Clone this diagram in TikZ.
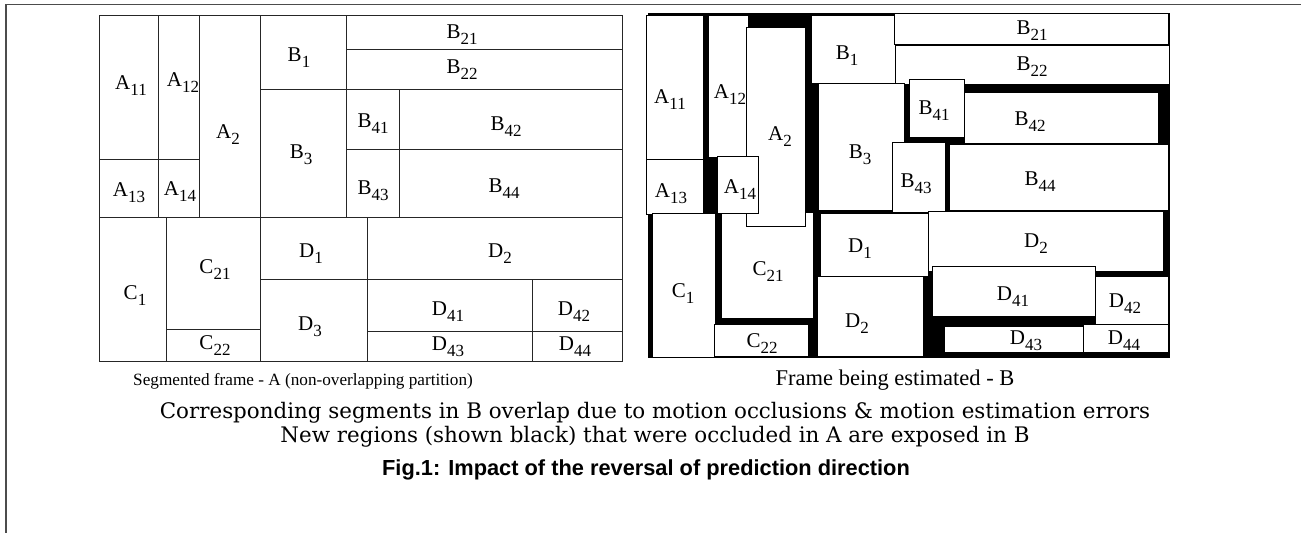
\documentclass[tikz,border=0pt]{standalone}
\usepackage{fontspec}
\setmainfont{Liberation Serif}
\newfontfamily\notefont{DejaVu Serif}
\newfontfamily\figfont{Liberation Sans}
\newcommand{\seg}[2]{#1\raisebox{-6pt}{\fontsize{17}{17}\selectfont #2}}

\begin{document}
\begin{tikzpicture}[x=1pt,y=1pt,
	lbl/.style={font=\fontsize{21}{25}\selectfont},
	segbox/.style={draw=black,fill=white,line width=0.8pt},
	part/.style={draw=black!85,line width=0.9pt}]
	\tikzstyle{every node}+=[inner sep=0pt]
	\useasboundingbox (0,0) rectangle (1301,-533);
	% page rules
	\draw [gray!60!black, line width=1.5pt] (5,-4.5) -- (1301,-4.5);
	\draw [gray!60!black, line width=2pt] (5.5,-4.5) -- (5.5,-533);

	% segmented frame A
	\draw [part] (99,-15) rectangle (622,-361);
	\draw [part] (99,-217) -- (622,-217);
	\draw [part] (158,-15) -- (158,-217);
	\draw [part] (199,-15) -- (199,-217);
	\draw [part] (260,-15) -- (260,-361);
	\draw [part] (346,-15) -- (346,-217);
	\draw [part] (99,-159) -- (199,-159);
	\draw [part] (260,-89) -- (622,-89);
	\draw [part] (346,-49) -- (622,-49);
	\draw [part] (399,-89) -- (399,-217);
	\draw [part] (346,-149) -- (622,-149);
	\draw [part] (166,-217) -- (166,-361);
	\draw [part] (166,-329) -- (260,-329);
	\draw [part] (260,-279) -- (622,-279);
	\draw [part] (367,-217) -- (367,-361);
	\draw [part] (532,-279) -- (532,-361);
	\draw [part] (367,-331) -- (622,-331);
	\draw (131,-86) node [lbl] (a11) {\seg{A}{11}};
	\draw (183,-83) node [lbl] (a12) {\seg{A}{12}};
	\draw (228,-135) node [lbl] (a2) {\seg{A}{2}};
	\draw (129,-193) node [lbl] (a13) {\seg{A}{13}};
	\draw (180,-192) node [lbl] (a14) {\seg{A}{14}};
	\draw (299,-58) node [lbl] (b1) {\seg{B}{1}};
	\draw (301,-155) node [lbl] (b3) {\seg{B}{3}};
	\draw (462,-35) node [lbl] (b21) {\seg{B}{21}};
	\draw (462,-70) node [lbl] (b22) {\seg{B}{22}};
	\draw (373,-124) node [lbl] (b41) {\seg{B}{41}};
	\draw (506,-127) node [lbl] (b42) {\seg{B}{42}};
	\draw (373,-191) node [lbl] (b43) {\seg{B}{43}};
	\draw (504,-189) node [lbl] (b44) {\seg{B}{44}};
	\draw (135,-296) node [lbl] (c1) {\seg{C}{1}};
	\draw (215,-270) node [lbl] (c21) {\seg{C}{21}};
	\draw (215,-346) node [lbl] (c22) {\seg{C}{22}};
	\draw (311,-254) node [lbl] (d1) {\seg{D}{1}};
	\draw (310,-327) node [lbl] (d3) {\seg{D}{3}};
	\draw (500,-254) node [lbl] (d2) {\seg{D}{2}};
	\draw (448,-312) node [lbl] (d41) {\seg{D}{41}};
	\draw (574,-312) node [lbl] (d42) {\seg{D}{42}};
	\draw (448,-347) node [lbl] (d43) {\seg{D}{43}};
	\draw (575,-347) node [lbl] (d44) {\seg{D}{44}};

	% estimated frame B
	\fill [black] (648,-13) rectangle (1169.5,-357.5);
	\draw [segbox] (646,-15) rectangle (703,-159);
	\draw [segbox] (708,-15) rectangle (748,-157);
	\draw [segbox] (646,-159) rectangle (703,-214);
	\draw [segbox] (652,-213) rectangle (715,-357);
	\draw [segbox] (721,-212) rectangle (813,-318);
	\draw [segbox] (746,-27) rectangle (805,-226);
	\draw [segbox] (717,-156) rectangle (758,-213);
	\draw [segbox] (714,-324) rectangle (808,-356);
	\draw [segbox] (811,-15) rectangle (895,-83);
	\draw [segbox] (894,-13) rectangle (1168,-44);
	\draw [segbox] (895,-45) rectangle (1169,-84);
	\draw [segbox] (818,-83) rectangle (904,-210);
	\draw [segbox] (964,-92) rectangle (1158,-143);
	\draw [segbox] (909,-79) rectangle (964,-137);
	\draw [segbox] (949,-144) rectangle (1168,-210);
	\draw [segbox] (892,-142) rectangle (945,-212);
	\draw [segbox] (928,-211) rectangle (1163,-271);
	\draw [segbox] (820,-213) rectangle (928,-276);
	\draw [segbox] (817,-276) rectangle (923,-356);
	\draw [segbox] (932,-266) rectangle (1095,-316);
	\draw [segbox] (1095,-276) rectangle (1168,-324);
	\draw [segbox] (944,-326) rectangle (1083,-352);
	\draw [segbox] (1083,-324) rectangle (1168,-352);
	\draw (670,-100) node [lbl] (ea11) {\seg{A}{11}};
	\draw (730,-95) node [lbl] (ea12) {\seg{A}{12}};
	\draw (780,-137) node [lbl] (ea2) {\seg{A}{2}};
	\draw (671,-194) node [lbl] (ea13) {\seg{A}{13}};
	\draw (740,-190) node [lbl] (ea14) {\seg{A}{14}};
	\draw (847,-56) node [lbl] (eb1) {\seg{B}{1}};
	\draw (860,-155) node [lbl] (eb3) {\seg{B}{3}};
	\draw (1032,-31) node [lbl] (eb21) {\seg{B}{21}};
	\draw (1032,-67) node [lbl] (eb22) {\seg{B}{22}};
	\draw (934,-111) node [lbl] (eb41) {\seg{B}{41}};
	\draw (1030,-122) node [lbl] (eb42) {\seg{B}{42}};
	\draw (916,-184) node [lbl] (eb43) {\seg{B}{43}};
	\draw (1040,-182) node [lbl] (eb44) {\seg{B}{44}};
	\draw (683,-294) node [lbl] (ec1) {\seg{C}{1}};
	\draw (768,-272) node [lbl] (ec21) {\seg{C}{21}};
	\draw (762,-344) node [lbl] (ec22) {\seg{C}{22}};
	\draw (860,-249) node [lbl] (ed1) {\seg{D}{1}};
	\draw (857,-324) node [lbl] (ed3) {\seg{D}{2}};
	\draw (1036,-244) node [lbl] (ed2) {\seg{D}{2}};
	\draw (1013,-297) node [lbl] (ed41) {\seg{D}{41}};
	\draw (1125,-304) node [lbl] (ed42) {\seg{D}{42}};
	\draw (1026,-341) node [lbl] (ed43) {\seg{D}{43}};
	\draw (1124,-341) node [lbl] (ed44) {\seg{D}{44}};

	% captions
	\draw (303,-381) node (capa) {\fontsize{17.2}{20}\selectfont Segmented frame - A (non-overlapping partition)};
	\draw (895,-380) node (capb) {\fontsize{22.5}{26}\selectfont Frame being estimated - B};
	\draw (655,-413) node (note1) {\notefont\fontsize{21.4}{24}\selectfont Corresponding segments in B overlap due to motion occlusions \& motion estimation errors};
	\draw (655,-437) node (note2) {\notefont\fontsize{21.4}{24}\selectfont New regions (shown black) that were occluded in A are exposed in B};
	\draw (646,-470) node (fig) {\figfont\bfseries\fontsize{21.8}{25}\selectfont Fig.1: Impact of the reversal of prediction direction};
\end{tikzpicture}
\end{document}
